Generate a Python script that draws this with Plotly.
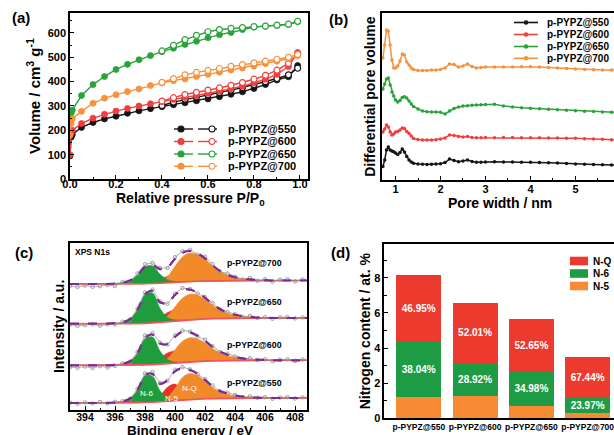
import plotly.graph_objects as go

W, H = 614, 435
FONT = "Liberation Sans, Arial, Helvetica, sans-serif"

samples = ["p-PYPZ@550", "p-PYPZ@600", "p-PYPZ@650", "p-PYPZ@700"]

# ---------------- (a) N2 isotherms ----------------
p_ads = [0.0, 0.005, 0.01, 0.05, 0.10, 0.15, 0.20, 0.25, 0.30, 0.35, 0.40, 0.45,
         0.50, 0.55, 0.60, 0.65, 0.70, 0.75, 0.80, 0.85, 0.90, 0.95, 0.99]
p_des = [0.99, 0.95, 0.90, 0.85, 0.80, 0.75, 0.70, 0.65, 0.60, 0.55, 0.50, 0.45, 0.40]
ads_550 = [95, 172, 183, 212, 232, 247, 258, 270, 280, 289, 297, 305, 313, 321, 329, 338, 348, 358, 372, 388, 407, 420, 466]
des_550 = [455, 428, 413, 400, 388, 376, 365, 355, 346, 338, 328, 316, 302]
ads_600 = [100, 190, 200, 228, 250, 266, 279, 290, 300, 309, 318, 327, 335, 343, 352, 361, 371, 381, 395, 410, 430, 462, 520]
des_600 = [516, 475, 447, 426, 410, 396, 385, 374, 365, 356, 347, 334, 320]
ads_650 = [255, 270, 283, 343, 388, 421, 450, 471, 490, 507, 523, 537, 553, 566, 580, 593, 602, 614, 624, 628, 631, 635, 646]
des_650 = [648, 636, 632, 628, 626, 622, 619, 614, 605, 590, 573, 549, 526]
ads_700 = [180, 228, 248, 278, 311, 332, 346, 359, 370, 384, 395, 404, 411, 421, 430, 439, 448, 456, 464, 474, 484, 494, 506]
des_700 = [512, 500, 492, 484, 477, 470, 463, 454, 446, 438, 428, 412, 397]

# ---------------- (b) pore size distribution (offset, a.u.) ----------------
w_pore = [0.72, 0.76, 0.80, 0.84, 0.88, 0.92, 0.96, 1.00, 1.05, 1.10, 1.15, 1.20, 1.25, 1.30, 1.35, 1.40,
          1.50, 1.60, 1.70, 1.80, 1.90, 2.00, 2.10, 2.20, 2.30, 2.40, 2.50, 2.60, 2.70, 2.80, 2.90, 3.00,
          3.20, 3.40, 3.60, 3.80, 4.00, 4.20, 4.40, 4.60, 4.80, 5.00, 5.20, 5.40, 5.60, 5.80, 6.00]
dv_550 = [13.5, 20, 30, 33, 30, 29, 28.3, 27, 25.5, 27.5, 31, 28, 23.5, 20, 18, 16.7,
          16, 15.7, 15.5, 15.7, 16, 16.3, 17.5, 21, 19.5, 18.3, 19, 20, 18.5, 17.7, 17.8, 18,
          18.3, 18, 18, 17.8, 17.7, 17.5, 17.3, 17, 16.5, 16, 15.8, 15.5, 15.3, 15, 15]
dv_600 = [48, 51, 55, 53, 48, 45, 46, 48, 48.5, 50, 52, 51.5, 48.5, 46.5, 44, 41.5,
          40.5, 40, 40, 40, 40.3, 41, 42, 45, 44.5, 43.5, 43, 43.5, 42.5, 42.3, 42.3, 42.5,
          42.3, 42.5, 42.5, 42.3, 42.3, 42.3, 42, 42, 41.8, 41.7, 41.3, 41, 40.7, 40.3, 40]
dv_650 = [91, 96, 101, 102, 95, 88, 84, 80, 78, 79.5, 82.5, 83.3, 82, 79, 76, 73.5,
          71, 69, 68.3, 68, 68, 67.7, 66, 69, 71.5, 73, 74, 74.3, 74.7, 75, 75.2, 75.5,
          75.7, 74, 73, 72.3, 71.8, 71.3, 70.8, 70.3, 69.7, 69.2, 68.8, 68.5, 68, 67.7, 67.5]
dv_700 = [122, 135, 150, 149, 135, 120, 112, 112, 114, 119, 126, 125, 118, 115, 112, 110.5,
          109.5, 109.5, 109.5, 110, 110, 110.5, 112, 116, 115.5, 113, 114, 116, 113.5, 112, 112.5, 113,
          113, 113, 113, 113.3, 113.3, 113, 112.5, 112, 111.5, 111, 110.5, 110.3, 110, 110, 110]

# ---------------- (c) XPS N1s (offset, a.u.) ----------------
E_c = [393.0, 393.5, 394.0, 394.5, 395.0, 395.5, 396.0, 396.5, 397.0, 397.5, 398.0, 398.5,
       399.0, 399.5, 400.0, 400.5, 401.0, 401.5, 402.0, 402.5, 403.0, 403.5, 404.0, 404.5,
       405.0, 405.5, 406.0, 406.5, 407.0, 407.5, 408.0, 408.5, 409.0]
bg_550 =   [7.0, 7.0, 7.0, 7.0, 7.0, 7.0, 7.0, 7.0, 7.0, 7.0, 7.3, 7.7, 8.2, 8.8, 9.4, 10.0, 10.5, 10.9, 11.2, 11.4, 11.6, 11.7, 11.8, 11.8, 11.9, 11.9, 12.0, 12.0, 12.0, 12.0, 12.0, 12.0, 12.0]
n6_550 =   [0, 0, 0, 0, 0, 0, 0.5, 1.5, 4.5, 13, 27, 26, 11, 3, 0.8, 0.2, 0, 0, 0, 0, 0, 0, 0, 0, 0, 0, 0, 0, 0, 0, 0, 0, 0]
n5_550 =   [0, 0, 0, 0, 0, 0, 0, 0, 0, 0, 0.5, 2, 6, 14, 16.5, 9, 3.5, 2, 1.5, 1.2, 1, 0.8, 0.5, 0.4, 0.3, 0.2, 0.1, 0, 0, 0, 0, 0, 0]
nq_550 =   [0, 0, 0, 0, 0, 0, 0, 0, 0, 0, 0, 0.3, 1, 4, 12, 22.5, 26, 23.5, 17.5, 11, 6.5, 4, 2.3, 1.3, 0.7, 0.3, 0.1, 0, 0, 0, 0, 0, 0]
dev_550 =  [0.5, -0.8, 0.6, -0.5, 0.9, -0.4, 0.7, 0.3, -0.6, 1.0, 1.8, 2.0, 0.8, -0.5, 1.5, 1.2, 0.6, -0.4, 0.8, 1.0, -0.6, 0.9, 0.4, -0.7, 0.8, -0.3, 0.6, -0.8, 0.5, 0.9, -0.5, 0.7, 0.2]

bg_600 =   [44.7, 44.7, 44.7, 44.7, 44.7, 44.7, 44.7, 44.7, 44.7, 44.7, 45.0, 45.4, 45.9, 46.5, 47.1, 47.7, 48.2, 48.6, 48.9, 49.1, 49.3, 49.4, 49.5, 49.5, 49.6, 49.6, 49.7, 49.7, 49.7, 49.7, 49.7, 49.7, 49.7]
n6_600 =   [0, 0, 0, 0, 0, 0, 0.5, 1.5, 4, 12, 26.5, 27.5, 13, 4, 1, 0.2, 0, 0, 0, 0, 0, 0, 0, 0, 0, 0, 0, 0, 0, 0, 0, 0, 0]
n5_600 =   [0, 0, 0, 0, 0, 0, 0, 0, 0, 0, 0.5, 2, 6, 10.5, 12, 9.5, 5.5, 3.2, 2.2, 1.5, 1.2, 0.9, 0.6, 0.4, 0.3, 0.2, 0.1, 0, 0, 0, 0, 0, 0]
nq_600 =   [0, 0, 0, 0, 0, 0, 0, 0, 0, 0, 0, 0.5, 1.5, 5, 13, 21, 24, 22.5, 18, 12.5, 8, 5, 3, 1.8, 1, 0.5, 0.2, 0, 0, 0, 0, 0, 0]
dev_600 =  [-1.8, -2.5, -1.2, -2.8, -0.9, -2.2, -1.0, 0.5, -0.6, 1.2, 2.5, 1.5, 1.0, -0.5, 1.6, 1.0, 0.8, -0.8, 1.2, 0.7, -0.5, 1.0, 0.4, -0.8, 1.0, -0.4, 0.7, -0.9, 0.6, 1.0, -0.6, 0.8, 0.3]

bg_650 =   [86.3, 86.3, 86.3, 86.3, 86.3, 86.3, 86.3, 86.3, 86.3, 86.3, 86.6, 87.1, 87.7, 88.4, 89.1, 89.8, 90.3, 90.8, 91.1, 91.4, 91.6, 91.7, 91.8, 91.8, 91.9, 91.9, 92.0, 92.0, 92.0, 92.0, 92.0, 92.0, 92.0]
n6_650 =   [0, 0, 0, 0, 0, 0, 0.5, 1.5, 4.5, 14, 29, 30, 14, 4, 1, 0.2, 0, 0, 0, 0, 0, 0, 0, 0, 0, 0, 0, 0, 0, 0, 0, 0, 0]
n5_650 =   [0, 0, 0, 0, 0, 0, 0, 0, 0, 0, 0, 1.5, 4.5, 9, 11, 8.5, 4.5, 2.5, 1.6, 1.2, 0.9, 0.6, 0.4, 0.3, 0.2, 0.1, 0, 0, 0, 0, 0, 0, 0]
nq_650 =   [0, 0, 0, 0, 0, 0, 0, 0, 0, 0, 0, 0.5, 1.5, 5.5, 14, 22, 25.5, 24, 19.5, 13.5, 8.5, 5, 3, 1.8, 1, 0.5, 0.2, 0, 0, 0, 0, 0, 0]
dev_650 =  [-1.0, -2.2, -1.5, -0.6, -2.0, -0.8, -1.2, 0.4, -0.5, 1.0, 1.8, 1.2, 0.8, -0.6, 1.2, 1.4, 0.6, -0.7, 0.9, 0.8, -0.5, 0.8, 0.5, -0.6, 0.9, -0.5, 0.6, -0.8, 0.7, 0.9, -0.4, 0.6, 0.3]

bg_700 =   [126.0, 126.0, 126.0, 126.0, 126.0, 126.0, 126.0, 126.0, 126.0, 126.0, 126.2, 126.5, 126.8, 127.3, 127.7, 128.1, 128.5, 128.7, 128.9, 129.1, 129.2, 129.3, 129.3, 129.4, 129.4, 129.4, 129.5, 129.5, 129.5, 129.5, 129.5, 129.5, 129.5]
n6_700 =   [0, 0, 0, 0, 0, 0, 0.5, 1.5, 3.5, 9, 17, 17.5, 9, 3, 0.8, 0.2, 0, 0, 0, 0, 0, 0, 0, 0, 0, 0, 0, 0, 0, 0, 0, 0, 0]
n5_700 =   [0, 0, 0, 0, 0, 0, 0, 0, 0, 0, 0, 1, 3.5, 6.5, 6.5, 4, 2, 1.2, 0.8, 0.6, 0.4, 0.3, 0.2, 0.1, 0, 0, 0, 0, 0, 0, 0, 0, 0]
nq_700 =   [0, 0, 0, 0, 0, 0, 0, 0, 0, 0, 0, 0, 1.5, 6, 16, 25, 28.5, 26.5, 22, 15, 9.5, 5.5, 3.2, 2, 1.2, 0.6, 0.3, 0, 0, 0, 0, 0, 0]
dev_700 =  [-2.0, -3.0, -1.5, -2.8, -2.2, -1.0, -2.6, 0.6, -0.8, 1.5, 2.5, 2.2, 1.2, -0.8, 1.8, 1.5, 1.2, -1.0, 1.6, 1.2, -0.8, 1.4, 0.6, -1.0, 1.3, -0.8, 1.0, -1.2, 0.8, 1.3, -0.9, 1.1, 0.4]

# ---------------- (d) nitrogen species content (at.%) ----------------
N5_content = [1.22, 1.25, 0.70, 0.30]
N6_content = [3.10, 1.90, 1.97, 0.84]
NQ_content = [3.83, 3.42, 2.96, 2.36]
N6_pct = ["38.04%", "28.92%", "34.98%", "23.97%"]
NQ_pct = ["46.95%", "52.01%", "52.65%", "67.44%"]

# ---------------- styling ----------------
C_BLK, C_RED, C_GRN, C_ORG = "#151515", "#F23E3E", "#2BA33B", "#F7913B"
line_cols = [C_BLK, C_RED, C_GRN, C_ORG]
XC_GRN, XC_RED, XC_ORG = "#1F9C3C", "#E8332B", "#F38A2A"
XC_BG, XC_ENV, XC_RAW = "#F2545B", "#7A2D90", "#8E8E8E"
D_RED, D_GRN, D_ORG = "#EC3A2F", "#1E9B45", "#F68B33"


def px(x):
    return x / W


def py(y):
    return 1 - y / H


fig = go.Figure()

# ---- (a)
ads_sets = [ads_550, ads_600, ads_650, ads_700]
des_sets = [des_550, des_600, des_650, des_700]
for name, c, ya, yd in zip(samples, line_cols, ads_sets, des_sets):
    fig.add_trace(go.Scatter(x=p_ads, y=ya, mode="lines+markers", name=name + " ads",
                             line=dict(color=c, width=1.4),
                             marker=dict(symbol="circle", size=6, color=c, line=dict(color=c, width=0.8)),
                             xaxis="x", yaxis="y", showlegend=False))
    fig.add_trace(go.Scatter(x=p_des, y=yd, mode="lines+markers", name=name + " des",
                             line=dict(color=c, width=1.4),
                             marker=dict(symbol="circle", size=6, color="white", line=dict(color=c, width=1.2)),
                             xaxis="x", yaxis="y", showlegend=False))

# ---- (b)
for name, c, dv in zip(samples, line_cols, [dv_550, dv_600, dv_650, dv_700]):
    fig.add_trace(go.Scatter(x=w_pore, y=dv, mode="lines+markers", name=name,
                             line=dict(color=c, width=1.5),
                             marker=dict(symbol="circle", size=3.5, color=c),
                             xaxis="x2", yaxis="y2", showlegend=False))

# ---- (c)
xps_sets = [
    (bg_550, n6_550, n5_550, nq_550, dev_550),
    (bg_600, n6_600, n5_600, nq_600, dev_600),
    (bg_650, n6_650, n5_650, nq_650, dev_650),
    (bg_700, n6_700, n5_700, nq_700, dev_700),
]
for bg, n6, n5, nq, dev in xps_sets:
    for comp, fc in [(n5, XC_RED), (nq, XC_ORG), (n6, XC_GRN)]:
        fig.add_trace(go.Scatter(x=E_c, y=bg, mode="lines", line=dict(width=0, shape="spline"),
                                 xaxis="x3", yaxis="y3", showlegend=False, hoverinfo="skip"))
        top = [b + v for b, v in zip(bg, comp)]
        fig.add_trace(go.Scatter(x=E_c, y=top, mode="lines", fill="tonexty", fillcolor=fc,
                                 line=dict(color=fc, width=0.6, shape="spline"),
                                 xaxis="x3", yaxis="y3", showlegend=False))
    env = [b + a + r + q for b, a, r, q in zip(bg, n6, n5, nq)]
    raw = [e + d for e, d in zip(env, dev)]
    fig.add_trace(go.Scatter(x=E_c, y=bg, mode="lines", line=dict(color=XC_BG, width=1.6),
                             xaxis="x3", yaxis="y3", showlegend=False))
    fig.add_trace(go.Scatter(x=E_c, y=raw, mode="lines+markers",
                             line=dict(color=XC_RAW, width=0.7),
                             marker=dict(symbol="circle-open", size=3.5, color=XC_RAW, line=dict(width=0.8)),
                             xaxis="x3", yaxis="y3", showlegend=False))
    fig.add_trace(go.Scatter(x=E_c, y=env, mode="lines",
                             line=dict(color=XC_ENV, width=2.2, dash="dash", shape="spline"),
                             xaxis="x3", yaxis="y3", showlegend=False))

# ---- (d)
bar_text_font = dict(family=FONT, size=10, color="white", weight="bold")
fig.add_trace(go.Bar(x=samples, y=N5_content, name="N-5", marker=dict(color=D_ORG, line=dict(width=0)),
                     width=0.8, xaxis="x4", yaxis="y4", showlegend=False))
fig.add_trace(go.Bar(x=samples, y=N6_content, name="N-6", marker=dict(color=D_GRN, line=dict(width=0)),
                     width=0.8, text=N6_pct, textposition="inside", insidetextanchor="middle",
                     textangle=0, constraintext="none", textfont=bar_text_font,
                     xaxis="x4", yaxis="y4", showlegend=False))
fig.add_trace(go.Bar(x=samples, y=NQ_content, name="N-Q", marker=dict(color=D_RED, line=dict(width=0)),
                     width=0.8, text=NQ_pct, textposition="inside", insidetextanchor="middle",
                     textangle=0, constraintext="none", textfont=bar_text_font,
                     xaxis="x4", yaxis="y4", showlegend=False))

# ---------------- axes ----------------
TICKF = dict(family=FONT, size=11, color="black", weight="bold")


def axis(**kw):
    d = dict(showline=True, linecolor="black", linewidth=1.6, mirror=True,
             ticks="inside", ticklen=4, tickwidth=1.3, tickcolor="black",
             showgrid=False, zeroline=False, tickfont=TICKF, automargin=False)
    d.update(kw)
    return d


def minor(dt):
    return dict(dtick=dt, ticks="inside", ticklen=2.5, tickwidth=1, tickcolor="black", showgrid=False)


def title(text, size=14, standoff=2):
    return dict(text=text, font=dict(family=FONT, size=size, color="black", weight="bold"), standoff=standoff)


fig.update_layout(
    width=W, height=H, margin=dict(l=0, r=0, t=0, b=0),
    paper_bgcolor="white", plot_bgcolor="white", template="none",
    showlegend=False, barmode="stack",
    font=dict(family=FONT, color="black"),
    xaxis=axis(domain=[px(70), px(308)], range=[0, 1.035], dtick=0.2, tick0=0, tickformat=".1f",
               minor=minor(0.1), anchor="y", ticklabelstandoff=-6),
    yaxis=axis(domain=[py(179), py(13)], range=[0, 682], dtick=100, minor=minor(50), anchor="x",
               title=title("Volume / cm<sup>3</sup> g<sup>-1</sup>", 15, 3)),
    xaxis2=axis(domain=[px(382), 1.0], range=[0.70, 5.856], dtick=1, tick0=0, minor=minor(0.5),
                anchor="y2", ticklabelstandoff=-2),
    yaxis2=axis(domain=[py(180), py(13.3)], range=[0, 166.7], mirror=False, ticks="",
                showticklabels=False, anchor="x2", title=title("Differential pore volume", 14, 1)),
    xaxis3=axis(domain=[px(70), px(307)], range=[393, 408.8], dtick=2, tick0=0, minor=minor(1),
                tickfont=dict(family=FONT, size=10.5, color="black", weight="bold"),
                anchor="y3", ticklabelstandoff=-3),
    yaxis3=axis(domain=[py(410), py(242.7)], range=[0, 167.3], ticks="", showticklabels=False,
                anchor="x3", title=title("Intensity / a.u.", 14, 0)),
    xaxis4=axis(domain=[px(384.3), 1.0], range=[-0.613, 3.467], ticks="",
                tickfont=dict(family=FONT, size=8.5, color="black", weight="bold"),
                anchor="y4"),
    yaxis4=axis(domain=[py(418.3), py(244)], range=[0, 9.92], dtick=2, minor=minor(1), mirror=False,
                anchor="x4", title=title("Nitrogen content / at. %", 14, 0)),
)

# ---------------- legends, axis titles & labels ----------------
shapes = []
annots = []


def txt(x, y, s, size=11, xanchor="left", color="black", bold=True, xref="paper", yref="paper"):
    if xref == "paper":
        x, y = px(x), py(y)
    annots.append(dict(x=x, y=y, xref=xref, yref=yref, text=s, showarrow=False, xanchor=xanchor,
                       yanchor="middle",
                       font=dict(family=FONT, size=size, color=color, weight="bold" if bold else "normal")))


def seg(x0, x1, y, c, w=1.4):
    shapes.append(dict(type="line", xref="paper", yref="paper", x0=px(x0), x1=px(x1), y0=py(y), y1=py(y),
                       line=dict(color=c, width=w), layer="above"))


def dot(cx, cy, r, c, fill):
    shapes.append(dict(type="circle", xref="paper", yref="paper", x0=px(cx - r), x1=px(cx + r),
                       y0=py(cy + r), y1=py(cy - r), fillcolor=fill, line=dict(color=c, width=1.1),
                       layer="above"))


# x-axis titles
txt(190, 199, "Relative pressure P/P<sub>0</sub>", 14, "center")
txt(500, 203, "Pore width / nm", 14, "center")
txt(190, 430, "Binding energy / eV", 13.5, "center")

# legend (a)
for name, c, yrow in zip(samples, line_cols, [129, 141.5, 154, 166.3]):
    seg(174, 193, yrow, c)
    dot(181, yrow, 3, c, c)
    seg(198, 217, yrow, c)
    dot(212, yrow, 3, c, "white")
    txt(226, yrow, name, 11)

# legend (b)
for name, c, yrow in zip(samples, line_cols, [22.5, 34.5, 46.5, 58.3]):
    seg(514, 538, yrow, c, 1.6)
    dot(526, yrow, 1.7, c, c)
    txt(545, yrow, name, 10)

# legend (d)
for name, c, yrow in zip(["N-Q", "N-6", "N-5"], [D_RED, D_GRN, D_ORG], [261, 273.5, 286]):
    shapes.append(dict(type="rect", xref="paper", yref="paper", x0=px(570), x1=px(588),
                       y0=py(yrow + 4.3), y1=py(yrow - 4.3), fillcolor=c, line=dict(width=0), layer="above"))
    txt(591, yrow, name, 10)

# panel letters
txt(21, 17.5, "(a)", 15, "center")
txt(338, 19, "(b)", 15, "center")
txt(24, 252, "(c)", 15, "center")
txt(340, 252, "(d)", 15, "center")

# XPS labels
txt(393.2, 158.3, "XPS N1s", 8.5, "left", xref="x3", yref="y3")
for name, yv in zip(samples, [27.3, 65, 108.3, 147.3]):
    txt(405.3, yv, name, 8.8, "center", xref="x3", yref="y3")
txt(398.1, 17, "N-6", 8, "center", color="white", bold=False, xref="x3", yref="y3")
txt(399.75, 11.7, "N-5", 8, "center", color="white", bold=False, xref="x3", yref="y3")
txt(400.95, 21.7, "N-Q", 8, "center", color="white", bold=False, xref="x3", yref="y3")

fig.update_layout(shapes=shapes, annotations=annots)
fig.write_html("out.html", config={"displayModeBar": False},
               post_script="document.body.style.margin='0px';document.body.style.overflow='hidden';")
